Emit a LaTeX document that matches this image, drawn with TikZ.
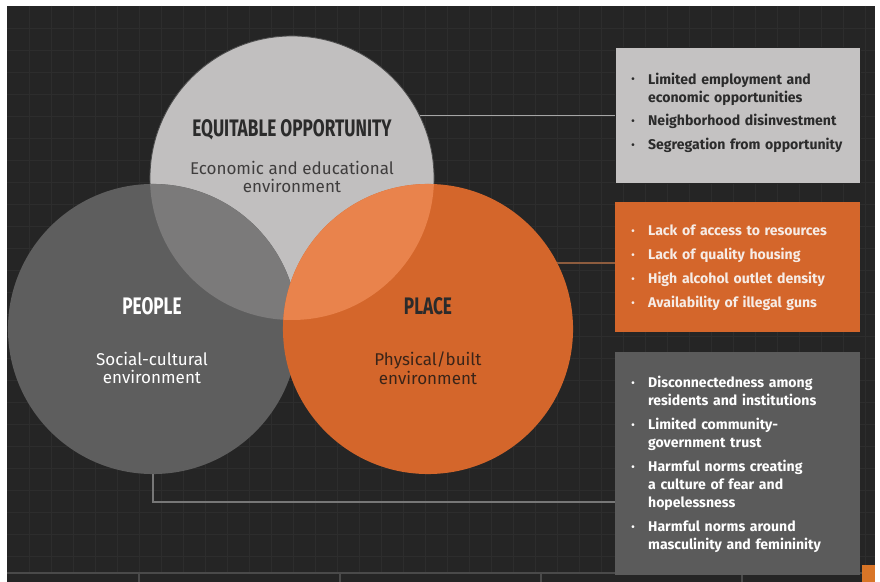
\documentclass[tikz,border=0pt]{standalone}
\usepackage{fontspec}
\setmainfont{Fira Sans}
\newfontfamily\headfont[FakeStretch=0.72]{Fira Sans Bold}

\definecolor{bgdark}{HTML}{252525}
\definecolor{gridline}{HTML}{2D2D2D}
\definecolor{stripline}{HTML}{4A4A4A}
\definecolor{oppgrey}{HTML}{C1BFBF}
\definecolor{peoplegrey}{HTML}{5E5E5E}
\definecolor{overlapgrey}{HTML}{7B7A7A}
\definecolor{placeorange}{HTML}{D4662B}
\definecolor{overlaporange}{HTML}{E9834C}
\definecolor{boxgrey}{HTML}{C4C2C2}
\definecolor{boxdark}{HTML}{5B5B5B}
\definecolor{darktext}{HTML}{2B2B2B}
\definecolor{midtext}{HTML}{3F3D3D}
\definecolor{placetext}{HTML}{3A2418}
\definecolor{lighttext}{HTML}{F6ECE6}
\definecolor{linegrey}{HTML}{A6A6A6}
\definecolor{lineorange}{HTML}{8D5C3E}

% one bullet item of a list box
\newcommand\itm[1]{\par\hangindent=12pt\hangafter=1\noindent\makebox[12pt][l]{\raisebox{0.15ex}{\scriptsize\textbullet}}#1\par\vspace{4.2pt}}

\begin{document}
\begin{tikzpicture}[x=0.025cm,y=-0.025cm,
  bigcirc/.style={circle,inner sep=0pt,minimum size=7.25cm},
  topcirc/.style={circle,inner sep=0pt,minimum size=7.1cm},
  headtext/.style={font=\headfont\fontsize{17}{19}\selectfont},
  subtext/.style={align=center,font=\fontsize{12.1}{13.2}\selectfont},
  listbox/.style={anchor=north west,minimum width=6.125cm,text width=5.325cm,
    inner xsep=0.4cm,align=left,font=\bfseries\fontsize{10}{12.8}\selectfont},
  link/.style={line width=1pt}]
\useasboundingbox (0,0) rectangle (880,582);
\fill[bgdark] (7,6) rectangle (875,582);
\foreach \gx in {29,51,...,875} \draw[gridline,line width=0.4pt] (\gx,6) -- (\gx,573);
\foreach \gy in {28,50,...,573} \draw[gridline,line width=0.4pt] (7,\gy) -- (875,\gy);
\draw[stripline,line width=0.8pt] (7,573) -- (875,573);
\foreach \sx in {139,340,541,742} \draw[stripline,line width=0.8pt] (\sx,573) -- (\sx,582);

% the three circles
\node[topcirc,fill=oppgrey,draw=black!70,line width=0.6pt] (opp) at (292,178) {};
\node[bigcirc,fill=peoplegrey] (people) at (153,329) {};
\begin{scope}
\clip (people.center) circle[radius=145];
\fill[overlapgrey] (opp.center) circle[radius=142];
\end{scope}
\node[bigcirc,fill=placeorange] (place) at (428,329) {};
\begin{scope}
\clip (place.center) circle[radius=145];
\fill[overlaporange] (opp.center) circle[radius=142];
\end{scope}

\node[headtext,text=darktext] (opptitle) at (292,130) {EQUITABLE OPPORTUNITY};
\node[subtext,text=midtext] (oppsub) at (292,177) {Economic and educational\\environment};
\node[headtext,text=white] (peopletitle) at (152,306) {PEOPLE};
\node[subtext,text=white] (peoplesub) at (152,368) {Social-cultural\\environment};
\node[headtext,text=darktext] (placetitle) at (428,306) {PLACE};
\node[subtext,text=placetext] (placesub) at (428,368) {Physical/built\\environment};

% the three lists
\node[listbox,fill=boxgrey,draw=black!85,text=darktext,minimum height=3.4cm] (obox) at (615,47) {%
  \itm{Limited employment and\newline economic opportunities}
  \itm{Neighborhood disinvestment}
  \itm{Segregation from opportunity}\vspace{4pt}};
\node[listbox,fill=placeorange,text=lighttext,minimum height=3.25cm] (pbox) at (615,202) {%
  \itm{Lack of access to resources}
  \itm{Lack of quality housing}
  \itm{High alcohol outlet density}
  \itm{Availability of illegal guns}};
\node[listbox,fill=boxdark,text=white,minimum height=5.575cm] (sbox) at (615,352) {%
  \itm{Disconnectedness among\newline residents and institutions}
  \itm{Limited community-\newline government trust}
  \itm{Harmful norms creating\newline a culture of fear and\newline hopelessness}
  \itm{Harmful norms around\newline masculinity and femininity}};

\path[draw,link,linegrey] (opp.26) -- (opp.26 -| obox.west);
\path[draw,link,lineorange] (place.27.5) -- (place.27.5 -| pbox.west);
\coordinate (elbow) at (153,502);
\path[draw,link,stripline!75!white] (people.south) -- (elbow) -- (elbow -| sbox.west);

\fill[placeorange!90!yellow] (862,565) rectangle (875,582);
\end{tikzpicture}
\end{document}
